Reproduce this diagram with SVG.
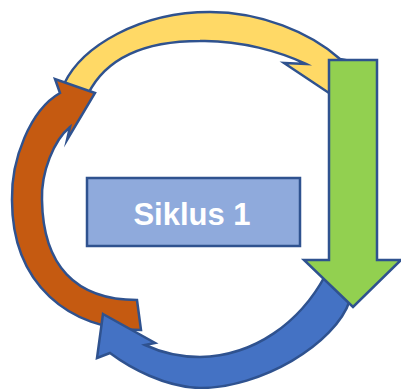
<svg xmlns="http://www.w3.org/2000/svg" width="401" height="389" viewBox="0 0 401 389">
<style>
.arr{stroke:#2f528f;stroke-width:2.5;stroke-linejoin:miter;stroke-miterlimit:10}
.lbl{font-family:"Liberation Sans",Arial,sans-serif;font-weight:bold;font-size:31px;fill:#ffffff}
</style>
<rect width="401" height="389" fill="#ffffff"/>
<g id="connectors">
<path id="arrow-yellow" class="arr" fill="#ffd966" d="M64,84 C82,46 140,12 210,12 C260,12 310,32 340,59 L356,62 L356,111 L284,63 L306,64 C281,52 240,40 200,41 C160,41 110,50 88,94 Z"/>
<path id="arrow-brown" class="arr" fill="#c55a11" d="M60,93 L55,79 L95,93 L67,140 L70,127 C54,140 41,172 42,200 C43,265 75,300 137,300 L141,330 C70,330 12,285 12,200 C11,160 30,110 60,93 Z"/>
<path id="arrow-blue" class="arr" fill="#4472c4" d="M103,314 L155,343 L145,345 C160,352 180,357 200,357 C255,356 300,322 325,276 L350,300 C335,345 260,388 200,388 C165,387 130,368 110,353 L97,358 Z"/>
</g>
<g id="node-green">
<path class="arr" fill="#92d050" d="M329,60 L377,60 L377,260 L401,260 L353,307 L304,260 L329,260 Z"/>
</g>
<g id="node-siklus">
<rect x="87" y="178" width="213" height="68" fill="#8faadc" stroke="#2f528f" stroke-width="2.5"/>
<text class="lbl" x="192" y="225" text-anchor="middle">Siklus 1</text>
</g>
</svg>
